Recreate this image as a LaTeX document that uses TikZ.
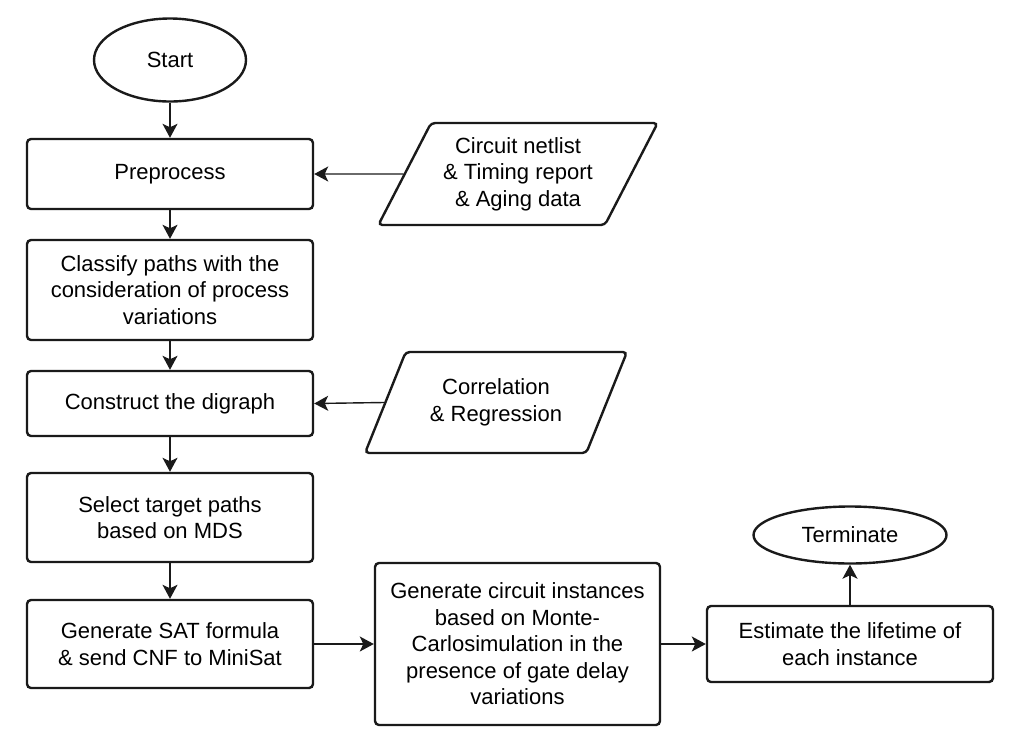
\documentclass[tikz,border=0pt]{standalone}
\usepackage{fontspec}
\setmainfont{Liberation Sans}
\usepackage{tikz}
\usetikzlibrary{shapes.geometric,arrows.meta,positioning}
\definecolor{InkBlack}{HTML}{1A1A1A}

\begin{document}
\begin{tikzpicture}[x=1pt, y=-1pt,
    proc/.style={draw=InkBlack, line width=2.4pt, fill=white, rounded corners=4pt, font=\fontsize{22}{26.5}\selectfont, align=center, inner sep=0pt, minimum width=286pt},
    term/.style={draw=InkBlack, line width=2.4pt, fill=white, ellipse, font=\fontsize{22}{26.5}\selectfont, inner sep=0pt},
    data/.style={draw=InkBlack, line width=2.4pt, fill=white, trapezium, trapezium left angle=59, trapezium right angle=121, trapezium stretches=true, rounded corners=4pt, font=\fontsize{22}{26.5}\selectfont, align=center, inner sep=2pt},
    arr/.style={-{Stealth[length=14pt, width=15pt, inset=3.5pt]}, draw=InkBlack, line width=1.4pt}
  ]
    \useasboundingbox (0,0) rectangle (1018,740);

    % Main column
    \node[term, minimum width=152pt, minimum height=83pt] (start) at (170, 60) {Start};
    \node[proc, minimum height=70pt] (pre) at (170, 174) {Preprocess};
    \node[proc, minimum height=100pt] (cls) at (170, 290) {Classify paths with the\\consideration of process\\variations};
    \node[proc, minimum height=65pt] (con) at (170, 403.5) {Construct the digraph};
    \node[proc, minimum height=89pt] (sel) at (170, 517.5) {Select target paths\\based on MDS};
    \node[proc, minimum height=88pt] (sat) at (170, 644) {Generate SAT formula\\\& send CNF to MiniSat};

    % Inputs
    \node[data, minimum width=280pt, minimum height=102pt] (netlist) at (518, 174) {Circuit netlist\\\& Timing report\\\& Aging data};
    \node[data, minimum width=262pt, minimum height=101pt] (corr) at (496, 402.5) {Correlation\\\& Regression};

    % Bottom row
    \node[proc, minimum width=285pt, minimum height=162pt] (gen) at (517.5, 644) {Generate circuit instances\\based on Monte-\\Carlosimulation in the\\presence of gate delay\\variations};
    \node[proc, minimum height=76pt] (est) at (850, 644) {Estimate the lifetime of\\each instance};
    \node[term, minimum width=193pt, minimum height=57pt] (stop) at (850, 535) {Terminate};

    % Connectors
    \draw[arr] (start.south) -- (pre.north);
    \draw[arr] (pre.south) -- (cls.north);
    \draw[arr] (cls.south) -- (con.north);
    \draw[arr] (con.south) -- (sel.north);
    \draw[arr] (sel.south) -- (sat.north);
    \draw[arr] (netlist.west) -- (pre.east);
    \draw[arr] (corr.west) -- (con.east);
    \draw[arr] (sat.east) -- (gen.west);
    \draw[arr] (gen.east) -- (est.west);
    \draw[arr] (est.north) -- (stop.south);

  \end{tikzpicture}
\end{document}
